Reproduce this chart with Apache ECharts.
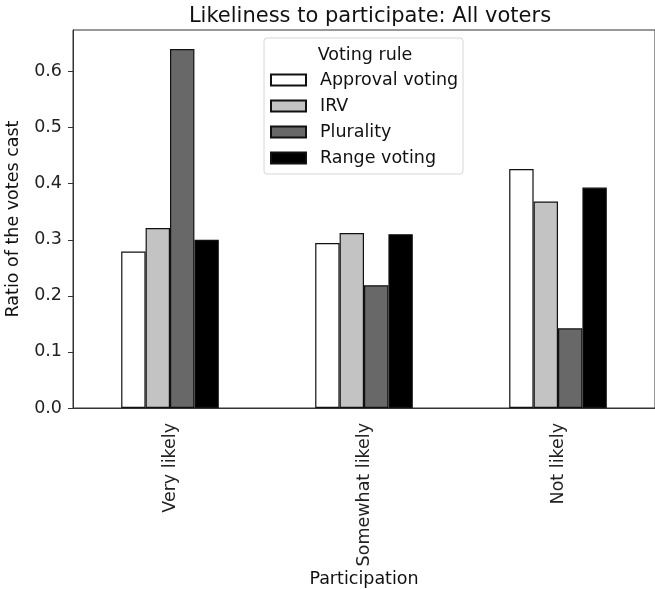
<!DOCTYPE html>
<html>
<head>
<meta charset="utf-8">
<script src="https://cdn.jsdelivr.net/npm/echarts@6/dist/echarts.min.js"></script>
<style>
html,body{margin:0;padding:0;background:#fff;}
#chart{width:655px;height:589px;}
</style>
</head>
<body>
<div id="chart"></div>
<script>
var categories = ['Very likely', 'Somewhat likely', 'Not likely'];
var seriesNames = ['Approval voting', 'IRV', 'Plurality', 'Range voting'];
var approval = [0.279, 0.294, 0.426];
var irv = [0.321, 0.312, 0.368];
var plurality = [0.640, 0.219, 0.142];
var range = [0.300, 0.310, 0.393];
var colors = ['#ffffff', '#c3c3c3', '#686868', '#000000'];

var FONT = 'DejaVu Sans';
var FS = 17.5;
var values = [approval, irv, plurality, range];
var chart = echarts.init(document.getElementById('chart'), null, {renderer: 'canvas'});
var series = seriesNames.map(function (n, i) {
  return {
    name: n, type: 'bar', data: values[i], barWidth: 24.4, barGap: '0%',
    itemStyle: {color: colors[i], borderColor: '#111', borderWidth: 1.2},
    emphasis: {disabled: true}
  };
});
chart.setOption({
  animation: false,
  backgroundColor: '#fff',
  textStyle: {fontFamily: FONT},
  title: {
    text: 'Likeliness to participate: All voters',
    left: 365, top: 1, textAlign: 'center',
    textStyle: {fontFamily: FONT, fontSize: 21, fontWeight: 'normal', color: '#111'}
  },
  grid: {left: 73, right: 0, top: 30, bottom: 181, containLabel: false, outerBoundsMode: 'none',
    show: true, borderColor: '#333', borderWidth: 1},
  graphic: [
    {type: 'rect', shape: {x: 264, y: 38, width: 199, height: 136, r: 3},
     style: {fill: 'rgba(255,255,255,0.8)', stroke: '#d6d6d6', lineWidth: 1}, z: 1},
    {type: 'text', x: 365, y: 55, style: {text: 'Voting rule', font: FS + 'px "DejaVu Sans"', fill: '#111', textAlign: 'center', textVerticalAlign: 'middle'}, z: 2}
  ],
  legend: {
    orient: 'vertical', left: 270, top: 71, padding: 0, itemWidth: 35, itemHeight: 11, itemGap: 8,
    icon: 'rect', selectedMode: false,
    textStyle: {fontFamily: FONT, fontSize: FS, color: '#111', padding: [0, 0, 0, 9]},
    data: seriesNames, z: 3
  },
  xAxis: {
    type: 'category', data: categories,
    name: 'Participation', nameLocation: 'middle', nameGap: 162, nameMoveOverlap: false,
    nameTextStyle: {fontFamily: FONT, fontSize: FS, color: '#111'},
    axisLine: {lineStyle: {color: '#333', width: 1}},
    axisTick: {alignWithLabel: true, length: 5, lineStyle: {color: '#333'}},
    axisLabel: {rotate: 90, margin: 15, fontFamily: FONT, fontSize: FS, color: '#222'},
    splitLine: {show: false}
  },
  yAxis: {
    type: 'value', min: 0, max: 0.674, interval: 0.1,
    name: 'Ratio of the votes cast', nameLocation: 'middle', nameGap: 51, nameMoveOverlap: false,
    nameTextStyle: {fontFamily: FONT, fontSize: FS, color: '#111'},
    axisLine: {show: true, lineStyle: {color: '#333', width: 1}},
    axisTick: {show: true, length: 5, lineStyle: {color: '#333'}},
    axisLabel: {showMaxLabel: false, margin: 11, fontFamily: FONT, fontSize: FS, color: '#222',
      formatter: function (v) { return v.toFixed(1); }},
    splitLine: {show: false}
  },
  series: series
});
</script>
</body>
</html>
